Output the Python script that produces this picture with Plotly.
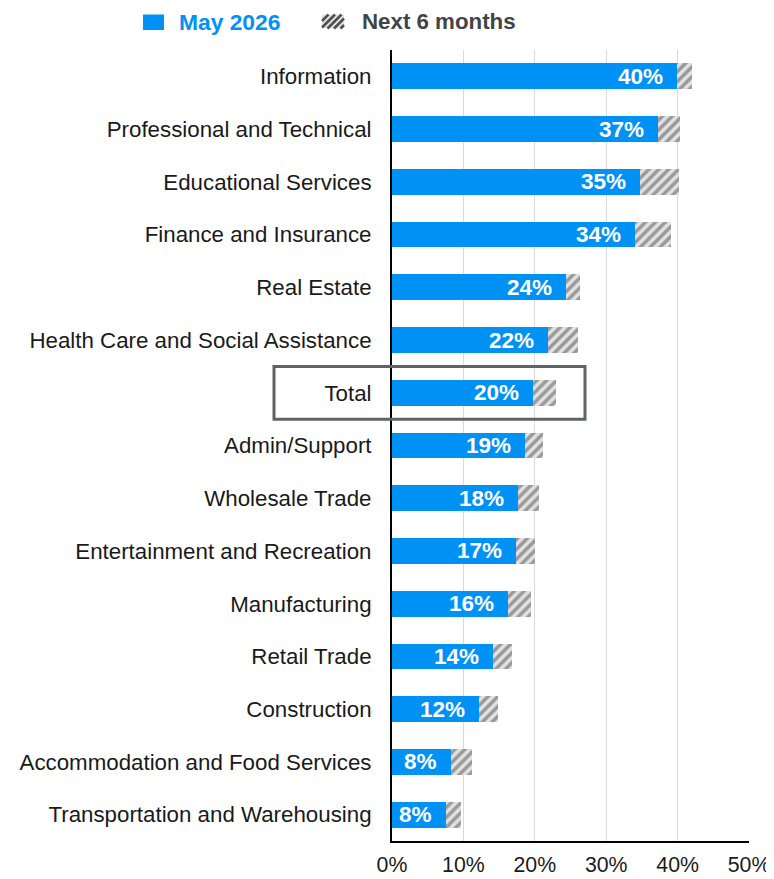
import plotly.graph_objects as go

categories = [
    "Information",
    "Professional and Technical",
    "Educational Services",
    "Finance and Insurance",
    "Real Estate",
    "Health Care and Social Assistance",
    "Total",
    "Admin/Support",
    "Wholesale Trade",
    "Entertainment and Recreation",
    "Manufacturing",
    "Retail Trade",
    "Construction",
    "Accommodation and Food Services",
    "Transportation and Warehousing",
]
may_2026 = [39.9, 37.2, 34.7, 34.0, 24.4, 21.8, 19.7, 18.6, 17.6, 17.3, 16.2, 14.2, 12.2, 8.3, 7.6]
next_6_months = [42.0, 40.4, 40.2, 39.1, 26.3, 26.1, 22.9, 21.1, 20.6, 20.0, 19.5, 16.8, 14.9, 11.2, 9.7]
x_tick_values = [0, 10, 20, 30, 40, 50]
x_tick_labels = ["0%", "10%", "20%", "30%", "40%", "50%"]
highlight = "Total"

BLUE = "#0091F5"
HATCH_FG = "#505050"
HATCH_BG = "#e2e2e2"
FONT = "Liberation Sans, Arial, sans-serif"
OFF = 8  # page body margin
W, H = 774 - OFF, 879 - OFF
# plot area in screen pixels
SL, SR, ST, SB = 392, 749, 50, 841
L, R, T, B = SL - OFF, SR - OFF, ST - OFF, SB - OFF

def px_x(p):
    return (p - SL) / (SR - SL)

def px_y(p):
    return (SB - p) / (SB - ST)

increment = [n - m for n, m in zip(next_6_months, may_2026)]

fig = go.Figure()
fig.add_trace(go.Bar(
    y=categories, x=may_2026, orientation="h", name="May 2026",
    marker=dict(color=BLUE, line=dict(width=0)),
    hoverinfo="x+y",
))
fig.add_trace(go.Bar(
    y=categories, x=increment, orientation="h", name="Next 6 months",
    marker=dict(color=HATCH_BG, line=dict(width=0),
                pattern=dict(shape="/", fgcolor=HATCH_FG, bgcolor=HATCH_BG,
                             size=7, solidity=0.5)),
    hoverinfo="x+y",
))

annotations = []
for c, v in zip(categories, may_2026):
    annotations.append(dict(
        x=v, y=c, xref="x", yref="y", xanchor="right", yanchor="middle",
        xshift=-12, text=f"{round(v)}%", showarrow=False,
        font=dict(family=FONT, size=22.5, color="white", weight="bold"),
    ))

# custom legend
annotations.append(dict(x=px_x(177), y=px_y(22), xref="paper", yref="paper",
                        xanchor="left", yanchor="middle", text="<b>May 2026</b>",
                        showarrow=False, font=dict(family=FONT, size=22.8, color=BLUE)))
annotations.append(dict(x=px_x(360), y=px_y(22), xref="paper", yref="paper",
                        xanchor="left", yanchor="middle", text="<b>Next 6 months</b>",
                        showarrow=False, font=dict(family=FONT, size=22.3, color="#404448")))

shapes = []
shapes.append(dict(type="rect", xref="paper", yref="paper",
                   x0=px_x(143), x1=px_x(164), y0=px_y(30), y1=px_y(14.5),
                   fillcolor=BLUE, line=dict(width=0)))
sx0, sx1, sy0, sy1 = 322, 344, 14.5, 28.5
shapes.append(dict(type="rect", xref="paper", yref="paper",
                   x0=px_x(sx0), x1=px_x(sx1), y0=px_y(sy1), y1=px_y(sy0),
                   fillcolor=HATCH_BG, line=dict(width=0)))
segs = []
k = sx0 + sy0
while k < sx1 + sy1:
    a = max(sx0, k - sy1)
    b = min(sx1, k - sy0)
    if b > a:
        segs.append(f"M{px_x(a)},{px_y(k - a)} L{px_x(b)},{px_y(k - b)}")
    k += 6.5
shapes.append(dict(type="path", xref="paper", yref="paper", path=" ".join(segs),
                   line=dict(color=HATCH_FG, width=2.5)))

# box around highlighted category
n = len(categories)
i = categories.index(highlight)
shapes.append(dict(type="rect", xref="paper", yref="paper",
                   x0=px_x(274), x1=px_x(585),
                   y0=1 - (i + 1) / n, y1=1 - i / n,
                   line=dict(color="#5f6266", width=3), fillcolor="rgba(0,0,0,0)"))

fig.update_layout(
    width=W, height=H,
    margin=dict(l=L, r=W - R, t=T, b=H - B, pad=0, autoexpand=False),
    barmode="stack", bargap=0.51,
    showlegend=False,
    plot_bgcolor="white", paper_bgcolor="white",
    font=dict(family=FONT, size=21, color="#1a1a1a"),
    annotations=annotations, shapes=shapes,
)
fig.update_xaxes(
    range=[0, 50], tickvals=x_tick_values, ticktext=x_tick_labels,
    showgrid=True, gridcolor="#d9d9d9", gridwidth=1,
    zeroline=False, showline=True, linecolor="black", linewidth=1.5,
    ticks="", tickfont=dict(size=21.3, color="#1a1a1a", family=FONT),
    ticklabelstandoff=4, fixedrange=True, automargin=False,
)
fig.update_yaxes(
    type="category", categoryorder="array", categoryarray=categories,
    range=[n - 0.5, -0.5],
    showgrid=False, zeroline=False, showline=True, linecolor="black", linewidth=2,
    ticks="", tickfont=dict(size=22.3, color="#1a1a1a", family=FONT),
    ticklabelstandoff=14, fixedrange=True, automargin=False,
)

fig.write_html("out.html")
